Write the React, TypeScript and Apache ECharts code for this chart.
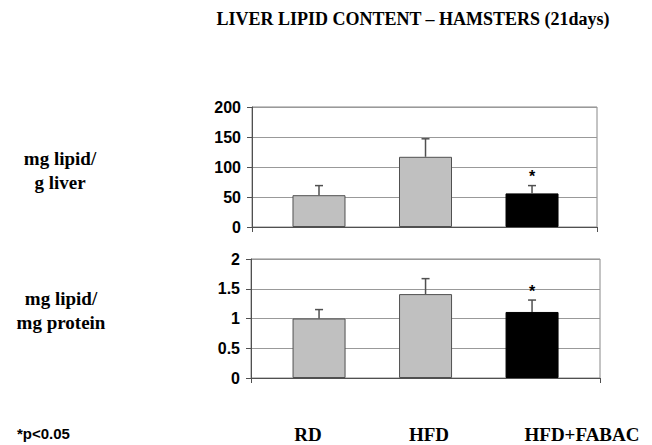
import React, { useEffect, useRef } from "react";
import * as echarts from "echarts";

const title = "LIVER LIPID CONTENT – HAMSTERS (21days)";
const categories = ["RD", "HFD", "HFD+FABAC"];
const lipidPerLiver = [53, 117, 56];
const lipidPerLiverErr = [16, 30, 13];
const lipidPerProtein = [1.0, 1.41, 1.11];
const lipidPerProteinErr = [0.15, 0.26, 0.2];
const significant = [false, false, true];
const topAxisName = ["mg lipid/", "g liver"];
const bottomAxisName = ["mg lipid/", "mg protein"];
const footnote = "*p<0.05";

const GREY = "#c0c0c0";
const EDGE = "#505050";
const SERIF = "Liberation Serif";
const SANS = "Liberation Sans";

function errorBarRender(params: any, api: any) {
  const x = api.value(0);
  const y = api.value(1);
  const e = api.value(2);
  const sig = api.value(3);
  const base = api.coord([x, y]);
  const top = api.coord([x, y + e]);
  const children: any[] = [
    {
      type: "line",
      shape: { x1: base[0], y1: base[1], x2: top[0], y2: top[1] },
      style: { stroke: EDGE, lineWidth: 1.5 },
    },
    {
      type: "line",
      shape: { x1: top[0] - 4, y1: top[1], x2: top[0] + 4, y2: top[1] },
      style: { stroke: EDGE, lineWidth: 1.5 },
    },
  ];
  if (sig) {
    children.push({
      type: "text",
      x: top[0],
      y: top[1] - 9,
      style: {
        text: "*",
        fill: "#000",
        fontSize: 16,
        fontWeight: "bold",
        fontFamily: SANS,
        align: "center",
        verticalAlign: "middle",
      },
    });
  }
  return { type: "group", children };
}

function barData(vals: number[]) {
  return vals.map((v, i) => ({
    value: [i + 1, v],
    itemStyle: {
      color: i === 2 ? "#000" : GREY,
      borderColor: i === 2 ? "#000" : EDGE,
      borderWidth: 1,
    },
  }));
}

function errData(vals: number[], errs: number[]) {
  return vals.map((v, i) => [i + 1, v, errs[i], significant[i] ? 1 : 0]);
}

function txt(text: string, x: number, y: number, size: number, family: string, align = "center") {
  return {
    type: "text",
    x,
    y,
    style: {
      text,
      fill: "#000",
      fontSize: size,
      fontWeight: "bold",
      fontFamily: family,
      align,
      verticalAlign: "middle",
    },
  };
}

export default function App() {
  const ref = useRef<HTMLDivElement>(null);
  useEffect(() => {
    if (!ref.current) return;
    const chart = echarts.init(ref.current, null, { renderer: "svg" });
    const yLabel = {
      color: "#000",
      fontWeight: "bold" as const,
      fontSize: 16,
      fontFamily: SANS,
      margin: 11,
    };
    const xMinTop = 0.371;
    const xMaxTop = 3.61;
    const xMinBot = 0.361;
    const xMaxBot = 3.638;
    chart.setOption({
      animation: false,
      backgroundColor: "#fff",
      grid: [
        { left: 252, right: 55, top: 107, height: 120, show: true, borderColor: "#888", borderWidth: 1, backgroundColor: "transparent" },
        { left: 251, right: 52, top: 259, height: 119, show: true, borderColor: "#888", borderWidth: 1, backgroundColor: "transparent" },
      ],
      xAxis: [
        {
          type: "value",
          gridIndex: 0,
          min: xMinTop,
          max: xMaxTop,
          splitLine: { show: false },
          axisLabel: { show: false },
          axisLine: { show: true, onZero: false, lineStyle: { color: EDGE, width: 1 } },
          axisTick: { show: true, customValues: [xMinTop, xMaxTop], length: 5, lineStyle: { color: EDGE } },
        },
        {
          type: "value",
          gridIndex: 1,
          min: xMinBot,
          max: xMaxBot,
          splitLine: { show: false },
          axisLabel: { show: false },
          axisLine: { show: true, onZero: false, lineStyle: { color: EDGE, width: 1 } },
          axisTick: { show: true, customValues: [xMinBot, xMaxBot], length: 5, lineStyle: { color: EDGE } },
        },
      ],
      yAxis: [
        {
          type: "value",
          gridIndex: 0,
          min: 0,
          max: 200,
          interval: 50,
          axisLine: { show: true, lineStyle: { color: EDGE, width: 1 } },
          axisTick: { show: true, length: 5, lineStyle: { color: EDGE } },
          splitLine: { show: true, lineStyle: { color: "#999", width: 1 } },
          axisLabel: yLabel,
        },
        {
          type: "value",
          gridIndex: 1,
          min: 0,
          max: 2,
          interval: 0.5,
          axisLine: { show: true, lineStyle: { color: EDGE, width: 1 } },
          axisTick: { show: true, length: 5, lineStyle: { color: EDGE } },
          splitLine: { show: true, lineStyle: { color: "#999", width: 1 } },
          axisLabel: yLabel,
        },
      ],
      series: [
        { type: "bar", xAxisIndex: 0, yAxisIndex: 0, barWidth: 53, data: barData(lipidPerLiver) },
        {
          type: "custom",
          xAxisIndex: 0,
          yAxisIndex: 0,
          renderItem: errorBarRender,
          encode: { x: 0, y: 1 },
          clip: false,
          z: 5,
          data: errData(lipidPerLiver, lipidPerLiverErr),
        },
        { type: "bar", xAxisIndex: 1, yAxisIndex: 1, barWidth: 53, data: barData(lipidPerProtein) },
        {
          type: "custom",
          xAxisIndex: 1,
          yAxisIndex: 1,
          renderItem: errorBarRender,
          encode: { x: 0, y: 1 },
          clip: false,
          z: 5,
          data: errData(lipidPerProtein, lipidPerProteinErr),
        },
      ],
      graphic: [
        txt(title, 413, 19, 18, SERIF),
        txt(topAxisName[0], 60, 158, 19, SERIF),
        txt(topAxisName[1], 60, 182, 19, SERIF),
        txt(bottomAxisName[0], 61, 298, 19, SERIF),
        txt(bottomAxisName[1], 61, 322, 19, SERIF),
        txt(footnote, 17, 433, 15, SANS, "left"),
        ...categories.map((c, i) => txt(c, [308, 429, 582][i], 434, 19, SERIF)),
      ],
    });
    return () => chart.dispose();
  }, []);
  return <div ref={ref} style={{ position: "absolute", left: 0, top: 0, width: 652, height: 445 }} />;
}
